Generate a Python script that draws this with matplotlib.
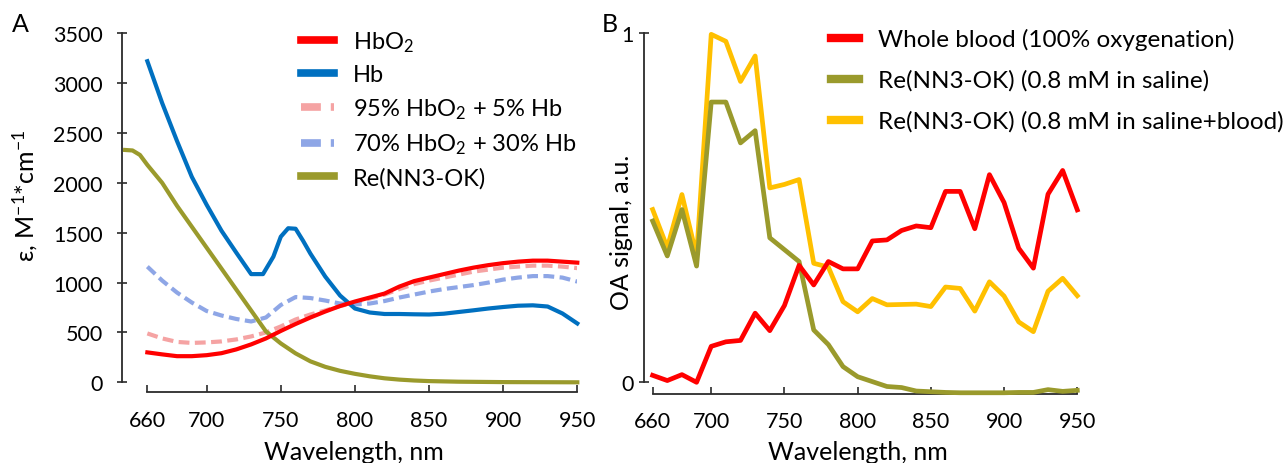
import matplotlib
matplotlib.use('Agg')
import matplotlib.pyplot as plt

# 字体设置
plt.rcParams['font.family'] = ['Lato', 'DejaVu Sans']
plt.rcParams['mathtext.fontset'] = 'custom'
plt.rcParams['mathtext.rm'] = 'Lato'
plt.rcParams['mathtext.it'] = 'Lato:italic'
plt.rcParams['mathtext.bf'] = 'Lato:bold'

# ---- 数据: A 图 (摩尔消光系数) ----
wl_a = [660, 670, 680, 690, 700, 710, 720, 730, 740, 750, 760, 770, 780, 790, 800,
        810, 820, 830, 840, 850, 860, 870, 880, 890, 900, 910, 920, 930, 940, 950]
hbo2 = [300, 280, 262, 262, 272, 292, 330, 380, 440, 515, 585, 650, 710, 765, 810,
        850, 890, 960, 1015, 1050, 1085, 1120, 1150, 1175, 1195, 1210, 1220, 1220, 1210, 1200]
mix95 = [490, 440, 405, 395, 400, 410, 430, 460, 500, 560, 630, 680, 720, 765, 800,
         840, 880, 935, 985, 1020, 1050, 1080, 1110, 1130, 1150, 1160, 1170, 1170, 1160, 1145]
mix70 = [1160, 1020, 900, 800, 715, 670, 635, 610, 650, 775, 855, 845, 820, 790, 780,
         790, 815, 850, 880, 910, 935, 955, 975, 1000, 1030, 1050, 1065, 1065, 1050, 1010]

wl_hb = [660, 670, 680, 690, 700, 710, 720, 730, 738, 745, 750, 755, 760, 765, 770, 780, 790,
         800, 810, 820, 830, 840, 850, 860, 870, 880, 890, 900, 910, 920, 930, 940, 950]
hb = [3220, 2800, 2420, 2060, 1780, 1520, 1300, 1085, 1085, 1260, 1460, 1545, 1540, 1420, 1290,
      1060, 870, 740, 700, 685, 685, 682, 680, 688, 705, 722, 740, 755, 768, 772, 760, 690, 590]

wl_re_a = [645, 650, 655, 660, 670, 680, 690, 700, 710, 720, 730, 740, 750, 760, 770, 780,
           790, 800, 810, 820, 830, 840, 850, 870, 900, 950]
re_a = [2330, 2325, 2280, 2180, 2000, 1770, 1560, 1350, 1140, 930, 720, 510, 390, 290, 210, 155,
        115, 85, 60, 40, 27, 18, 12, 6, 2, 0]

# ---- 数据: B 图 (光声信号) ----
wl_b = [660, 670, 680, 690, 700, 710, 720, 730, 740, 750, 760, 770, 780, 790, 800,
        810, 820, 830, 840, 850, 860, 870, 880, 890, 900, 910, 920, 930, 940, 950]
blood = [0.02, 0.005, 0.022, 0.0, 0.103, 0.116, 0.12, 0.198, 0.148, 0.22, 0.335, 0.279, 0.346, 0.325, 0.325,
         0.405, 0.408, 0.435, 0.448, 0.443, 0.547, 0.547, 0.44, 0.595, 0.515, 0.384, 0.327, 0.539, 0.607, 0.494]
re_saline = [0.462, 0.362, 0.495, 0.333, 0.803, 0.803, 0.686, 0.721, 0.414, 0.38, 0.346, 0.15, 0.108, 0.045, 0.016,
             0.002, -0.012, -0.015, -0.025, -0.027, -0.029, -0.03, -0.03, -0.03, -0.03, -0.029, -0.029, -0.021, -0.026, -0.023]
re_blood = [0.495, 0.386, 0.538, 0.362, 0.997, 0.977, 0.862, 0.935, 0.557, 0.567, 0.581, 0.341, 0.33, 0.231, 0.202,
            0.24, 0.222, 0.223, 0.224, 0.217, 0.273, 0.269, 0.204, 0.288, 0.247, 0.173, 0.145, 0.261, 0.298, 0.248]

xticks = [660, 700, 750, 800, 850, 900, 950]

RED = '#ff0000'
BLUE = '#0070c0'
PINK = '#f5a3a3'
LBLUE = '#8ea6e6'
OLIVE = '#9a9a2c'
GOLD = '#ffc000'
AXC = '#2b2b2b'

fig = plt.figure(figsize=(12.87, 4.64), dpi=100)
W, H = 1287.0, 464.0


def px_axes(x0, x1, ytop, ybot):
    return fig.add_axes([x0 / W, 1 - ybot / H, (x1 - x0) / W, (ybot - ytop) / H])


def style_axes(ax, offset, ypad, ymax):
    for s in ['top', 'right']:
        ax.spines[s].set_visible(False)
    for s in ['left', 'bottom']:
        ax.spines[s].set_color(AXC)
        ax.spines[s].set_linewidth(1.3)
    ax.spines['bottom'].set_position(('outward', offset))
    ax.spines['bottom'].set_bounds(660, 950)
    ax.spines['left'].set_bounds(0, ymax)
    ax.set_xticks(xticks)
    ax.tick_params(axis='x', direction='in', length=5, width=1.2, color=AXC,
                   labelsize=15.5, pad=12.5)
    ax.tick_params(axis='y', direction='inout', length=7, width=1.2, color=AXC,
                   labelsize=15.5, pad=ypad)


# ---- A 图 ----
axA = px_axes(121.7, 577.3, 34.3, 383.3)
axA.plot(wl_a, hbo2, color=RED, lw=3, label='HbO$_2$', clip_on=False, zorder=4)
axA.plot(wl_hb, hb, color=BLUE, lw=3, label='Hb', clip_on=False, zorder=3)
axA.plot(wl_a, mix95, color=PINK, lw=3, ls=(0, (2.6, 1.3)), label='95% HbO$_2$ + 5% Hb', zorder=2)
axA.plot(wl_a, mix70, color=LBLUE, lw=3, ls=(0, (2.6, 1.3)), label='70% HbO$_2$ + 30% Hb', zorder=2)
axA.plot(wl_re_a, re_a, color=OLIVE, lw=3, label='Re(NN3-OK)', clip_on=False, zorder=3)
axA.set_xlim(642.7, 950)
axA.set_ylim(0, 3500)
axA.set_yticks(range(0, 3501, 500))
style_axes(axA, 7.2, 10, 3500)
axA.set_xlabel('Wavelength, nm', fontsize=18)
axA.set_ylabel('ε, M$^{-1}$*cm$^{-1}$', fontsize=18)
axA.xaxis.set_label_coords((354 - 121.7) / 455.6, (383.3 - 441) / 349)
axA.yaxis.set_label_coords((40 - 121.7) / 455.6, (383.3 - 196) / 349)

legA = axA.legend(loc='upper left', bbox_to_anchor=(300.7 / W, 1 - 30 / H),
                  bbox_transform=fig.transFigure, frameon=False, fontsize=17,
                  handlelength=1.4, handletextpad=0.8, labelspacing=0.46,
                  borderpad=0, borderaxespad=0)
for ln in legA.get_lines():
    ln.set_linewidth(5.5)

# ---- B 图 ----
axB = px_axes(644.3, 1077.3, 34.3, 383.3)
axB.plot(wl_b, blood, color=RED, lw=3.4, label='Whole blood (100% oxygenation)', clip_on=False, zorder=4)
axB.plot(wl_b, re_saline, color=OLIVE, lw=3.4, label='Re(NN3-OK) (0.8 mM in saline)', clip_on=False, zorder=3)
axB.plot(wl_b, re_blood, color=GOLD, lw=3.4, label='Re(NN3-OK) (0.8 mM in saline+blood)', clip_on=False, zorder=2)
axB.set_xlim(654.3, 950)
axB.set_ylim(0, 1)
axB.set_yticks([0, 1])
axB.set_yticklabels(['0', '1'])
style_axes(axB, 8.4, 4, 1)
axB.set_xlabel('Wavelength, nm', fontsize=18)
axB.set_ylabel('OA signal, a.u.', fontsize=18)
axB.xaxis.set_label_coords((858 - 644.3) / 433.0, (383.3 - 441) / 349)
axB.yaxis.set_label_coords((633 - 644.3) / 433.0, (383.3 - 232) / 349)

legB = axB.legend(loc='upper left', bbox_to_anchor=(830.7 / W, 1 - 29 / H),
                  bbox_transform=fig.transFigure, frameon=False, fontsize=17.5,
                  handlelength=1.15, handletextpad=0.8, labelspacing=0.8,
                  borderpad=0, borderaxespad=0)
for ln in legB.get_lines():
    ln.set_linewidth(6)

# 面板标签
fig.text(20 / W, 1 - 25 / H, 'A', fontsize=18, ha='center', va='center')
fig.text(610 / W, 1 - 25 / H, 'B', fontsize=18, ha='center', va='center')

plt.savefig('out.png', dpi=100)
